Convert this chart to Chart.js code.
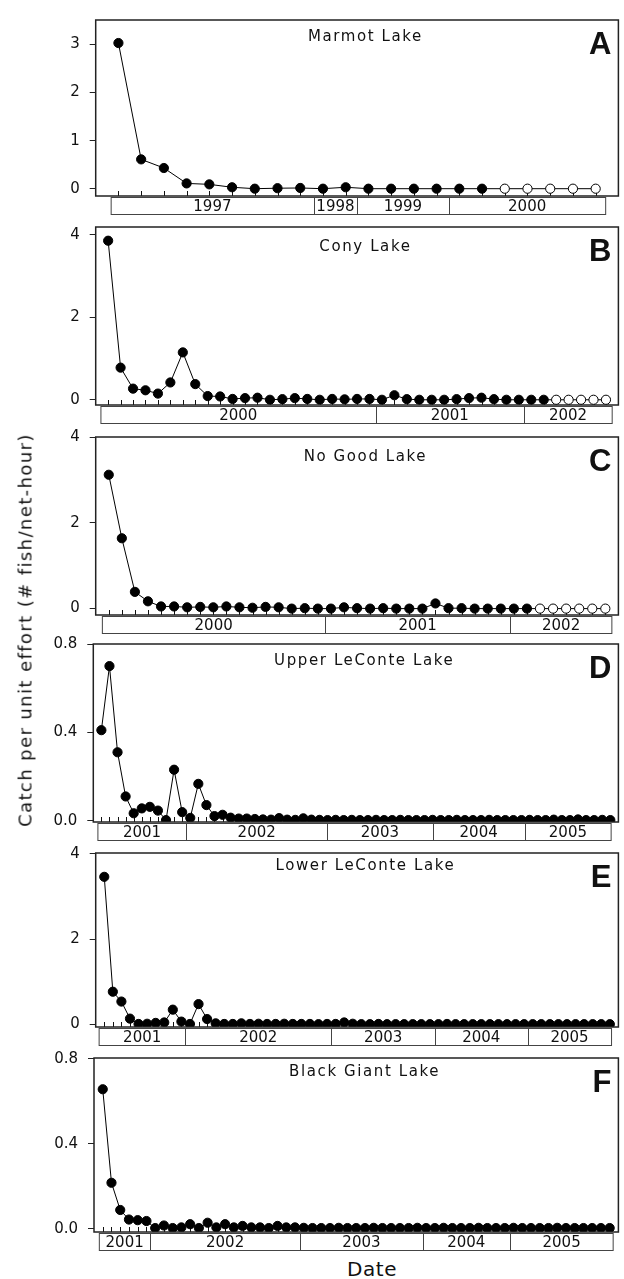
<!DOCTYPE html>
<html lang="en">
<head>
<meta charset="UTF-8">
<title>Catch per unit effort</title>
<script src="https://cdn.jsdelivr.net/npm/chart.js"></script>
<style>
  body { margin: 0; background: #fff; }
  #wrap { position: relative; width: 624px; height: 1279px; overflow: hidden; background: #fff; }
  #wrap canvas { position: absolute; left: 0; }
  .ytitle { position: absolute; left: 25px; top: 630px; transform: translate(-50%, -50%) rotate(-90deg);
            font: 18px "DejaVu Sans"; letter-spacing: 1.4px; white-space: nowrap; color: #111; }
  .xtitle { position: absolute; left: 372px; top: 1269px; transform: translate(-50%, -50%);
            font: 20px "DejaVu Sans"; letter-spacing: 0.6px; white-space: nowrap; color: #111; }
</style>
</head>
<body>
<div id="wrap">
  <canvas id="pA"></canvas>
  <canvas id="pB"></canvas>
  <canvas id="pC"></canvas>
  <canvas id="pD"></canvas>
  <canvas id="pE"></canvas>
  <canvas id="pF"></canvas>
  <div class="ytitle">Catch per unit effort (# fish/net-hour)</div>
  <div class="xtitle">Date</div>
</div>

<script>
// --- data (one value per sampling occasion, in order) ---
const marmot = [3.03, 0.61, 0.43, 0.11, 0.09, 0.03, 0.0, 0.01, 0.015, 0.0, 0.03,
                0.0, 0.0, 0.0, 0.0, 0.0, 0.0, 0.0, 0.0, 0.0, 0.0, 0.0];
const marmotOpenFrom = 17;   // later samples drawn as open circles
const marmotYears = ["1997", "1998", "1999", "2000"];
const marmotYearEdges = [-0.32, 8.59, 10.51, 14.53, 21.44];
const marmotYTicks = [0, 1, 2, 3];

const cony = [3.86, 0.78, 0.27, 0.23, 0.15, 0.42, 1.15, 0.38, 0.09, 0.08,
              0.02, 0.04, 0.05, 0.0, 0.015, 0.04, 0.02, 0.0, 0.02, 0.01,
              0.02, 0.02, 0.0, 0.11, 0.015, 0.0, 0.0, 0.0, 0.015, 0.04,
              0.05, 0.015, 0.0, 0.0, 0.0, 0.0, 0.0, 0.0, 0.0, 0.0, 0.0];
const conyOpenFrom = 36;
const conyYears = ["2000", "2001", "2002"];
const conyYearEdges = [-0.58, 21.5, 33.4, 40.5];
const conyYTicks = [0, 2, 4];

const noGood = [3.12, 1.64, 0.39, 0.17, 0.05, 0.05, 0.03, 0.04, 0.03, 0.05,
                0.03, 0.02, 0.04, 0.03, 0.0, 0.01, 0.0, 0.0, 0.03, 0.01,
                0.0, 0.01, 0.0, 0.0, 0.0, 0.12, 0.01, 0.01, 0.0, 0.0,
                0.0, 0.0, 0.0, 0.0, 0.0, 0.0, 0.0, 0.0, 0.0];
const noGoodOpenFrom = 33;
const noGoodYears = ["2000", "2001", "2002"];
const noGoodYearEdges = [-0.49, 16.54, 30.73, 38.5];
const noGoodYTicks = [0, 2, 4];

const upperLeConte = [0.41, 0.70, 0.31, 0.11, 0.034, 0.056, 0.063, 0.046, 0.003, 0.231,
                      0.039, 0.013, 0.167, 0.071, 0.021, 0.027, 0.014, 0.01, 0.01, 0.008,
                      0.006, 0.005, 0.012, 0.005, 0.004, 0.011, 0.005, 0.004, 0.003, 0.004,
                      0.003, 0.004, 0.003, 0.003, 0.004, 0.003, 0.003, 0.004, 0.003, 0.003,
                      0.003, 0.004, 0.003, 0.003, 0.004, 0.003, 0.003, 0.003, 0.004, 0.003,
                      0.003, 0.003, 0.003, 0.004, 0.003, 0.003, 0.005, 0.003, 0.003, 0.006,
                      0.003, 0.003, 0.004, 0.003];
const upperYears = ["2001", "2002", "2003", "2004", "2005"];
const upperYearEdges = [-0.43, 10.5, 27.95, 41.0, 52.4, 63.1];
const upperYTicks = [0, 0.4, 0.8];

const lowerLeConte = [3.46, 0.77, 0.54, 0.14, 0.015, 0.02, 0.04, 0.05, 0.35, 0.07,
                      0.015, 0.48, 0.13, 0.03, 0.015, 0.015, 0.03, 0.015, 0.02, 0.015,
                      0.015, 0.02, 0.015, 0.015, 0.015, 0.01, 0.015, 0.015, 0.05, 0.02,
                      0.01, 0.01, 0.015, 0.01, 0.01, 0.01, 0.01, 0.01, 0.01, 0.01,
                      0.015, 0.01, 0.01, 0.01, 0.01, 0.01, 0.01, 0.01, 0.01, 0.01,
                      0.01, 0.01, 0.01, 0.01, 0.01, 0.01, 0.01, 0.01, 0.01, 0.01];
const lowerYears = ["2001", "2002", "2003", "2004", "2005"];
const lowerYearEdges = [-0.6, 9.45, 26.5, 38.6, 49.4, 59.2];
const lowerYTicks = [0, 2, 4];

const blackGiant = [0.656, 0.216, 0.088, 0.043, 0.040, 0.036, 0.003, 0.015, 0.003, 0.006,
                    0.021, 0.003, 0.028, 0.006, 0.021, 0.006, 0.013, 0.006, 0.006, 0.003,
                    0.013, 0.006, 0.006, 0.004, 0.003, 0.003, 0.003, 0.004, 0.003, 0.003,
                    0.003, 0.004, 0.003, 0.003, 0.003, 0.003, 0.004, 0.003, 0.003, 0.004,
                    0.003, 0.003, 0.003, 0.004, 0.003, 0.003, 0.003, 0.004, 0.003, 0.003,
                    0.003, 0.003, 0.004, 0.003, 0.003, 0.003, 0.003, 0.003, 0.003];
const blackYears = ["2001", "2002", "2003", "2004", "2005"];
const blackYearEdges = [-0.39, 5.4, 22.6, 36.6, 46.6, 58.4];
const blackYTicks = [0, 0.4, 0.8];

// --- one chart per lake ---
function drawPanel(id, lake, letter, values, openFrom, yTicks, decimals, years, yearEdges, g) {
  const canvas = document.getElementById(id);
  const cTop = g.top - 10;
  const cBottom = g.bottom + 24;
  canvas.width = 624;
  canvas.height = Math.round(cBottom - cTop);
  canvas.style.top = cTop + "px";

  const extras = {
    id: "extras",
    beforeDatasetsDraw(chart) {
      // short inside ticks at every sample
      const { ctx, chartArea: a, scales: { x } } = chart;
      ctx.save();
      ctx.strokeStyle = "#111";
      ctx.lineWidth = 1;
      ctx.beginPath();
      values.forEach((v, i) => {
        const px = Math.round(x.getPixelForValue(i)) + 0.5;
        ctx.moveTo(px, a.bottom);
        ctx.lineTo(px, a.bottom - 5);
      });
      ctx.stroke();
      ctx.restore();
    },
    afterDatasetsDraw(chart) {
      const { ctx, chartArea: a } = chart;
      ctx.save();
      ctx.strokeStyle = "#222";
      ctx.lineWidth = 1.5;
      ctx.strokeRect(a.left, a.top, a.right - a.left, a.bottom - a.top);
      ctx.restore();
    },
    afterDraw(chart) {
      const { ctx, chartArea: a, scales: { x } } = chart;
      ctx.save();
      // year band
      const bt = a.bottom + 1.5, bb = bt + 17;
      const xs = yearEdges.map(e => x.getPixelForValue(e));
      ctx.strokeStyle = "#444";
      ctx.lineWidth = 1;
      ctx.strokeRect(xs[0], bt, xs[xs.length - 1] - xs[0], bb - bt);
      ctx.beginPath();
      for (let i = 1; i < xs.length - 1; i++) {
        ctx.moveTo(Math.round(xs[i]) + 0.5, bt);
        ctx.lineTo(Math.round(xs[i]) + 0.5, bb);
      }
      ctx.stroke();
      ctx.fillStyle = "#111";
      ctx.font = '15px "DejaVu Sans"';
      ctx.textAlign = "center";
      ctx.textBaseline = "middle";
      years.forEach((y, i) => ctx.fillText(y, (xs[i] + xs[i + 1]) / 2, (bt + bb) / 2 + 1));

      // lake name
      ctx.letterSpacing = "1.6px";
      ctx.fillText(lake, a.left + 0.516 * (a.right - a.left), g.titleY - cTop);
      ctx.letterSpacing = "0px";

      // panel letter
      ctx.font = 'bold 31px "Liberation Sans"';
      ctx.textAlign = "right";
      ctx.textBaseline = "alphabetic";
      ctx.fillText(letter, a.right - 7, a.top + 34);
      ctx.restore();
    }
  };

  new Chart(canvas, {
    type: "line",
    data: {
      datasets: [{
        data: values.map((v, i) => ({ x: i, y: v })),
        borderColor: "#000",
        borderWidth: 1,
        tension: 0,
        pointRadius: 4.6,
        pointBorderWidth: 1,
        pointBorderColor: "#000",
        pointBackgroundColor: ctx => (ctx.dataIndex < openFrom ? "#000" : "#fff")
      }]
    },
    options: {
      responsive: false,
      animation: false,
      layout: { padding: { top: 10, right: 4.5, bottom: cBottom - g.bottom, left: 0 } },
      plugins: { legend: { display: false }, tooltip: { enabled: false } },
      scales: {
        x: { type: "linear", display: false, min: -1, max: values.length },
        y: {
          min: g.yMin,
          max: g.yMax,
          afterFit: s => { s.width = g.left; },
          afterBuildTicks: s => { s.ticks = yTicks.map(v => ({ value: v })); },
          grid: { display: true, drawOnChartArea: false, drawTicks: true, tickLength: 6, color: "#222", lineWidth: 1 },
          border: { display: false },
          ticks: {
            padding: 10,
            color: "#111",
            font: { family: "DejaVu Sans", size: 15 },
            callback: v => Number(v).toFixed(decimals)
          }
        }
      }
    },
    plugins: [extras]
  });
}

drawPanel("pA", "Marmot Lake", "A", marmot, marmotOpenFrom, marmotYTicks, 0, marmotYears, marmotYearEdges,
  { left: 95.7, top: 11, bottom: 196, yMin: -0.152, yMax: 3.509, titleY: 36.7 });
drawPanel("pB", "Cony Lake", "B", cony, conyOpenFrom, conyYTicks, 0, conyYears, conyYearEdges,
  { left: 95.7, top: 218.3, bottom: 405.5, yMin: -0.127, yMax: 4.193, titleY: 247.7 });
drawPanel("pC", "No Good Lake", "C", noGood, noGoodOpenFrom, noGoodYTicks, 0, noGoodYears, noGoodYearEdges,
  { left: 95.7, top: 428.3, bottom: 615, yMin: -0.149, yMax: 4.0, titleY: 457.3 });
drawPanel("pD", "Upper LeConte Lake", "D", upperLeConte, upperLeConte.length, upperYTicks, 1, upperYears, upperYearEdges,
  { left: 93.3, top: 635, bottom: 822, yMin: -0.0056, yMax: 0.8, titleY: 660.7 });
drawPanel("pE", "Lower LeConte Lake", "E", lowerLeConte, lowerLeConte.length, lowerYTicks, 0, lowerYears, lowerYearEdges,
  { left: 95.7, top: 844, bottom: 1026.5, yMin: -0.056, yMax: 4.018, titleY: 865.7 });
drawPanel("pF", "Black Giant Lake", "F", blackGiant, blackGiant.length, blackYTicks, 1, blackYears, blackYearEdges,
  { left: 94, top: 1049.3, bottom: 1232.5, yMin: -0.0156, yMax: 0.803, titleY: 1072.3 });
</script>
</body>
</html>
